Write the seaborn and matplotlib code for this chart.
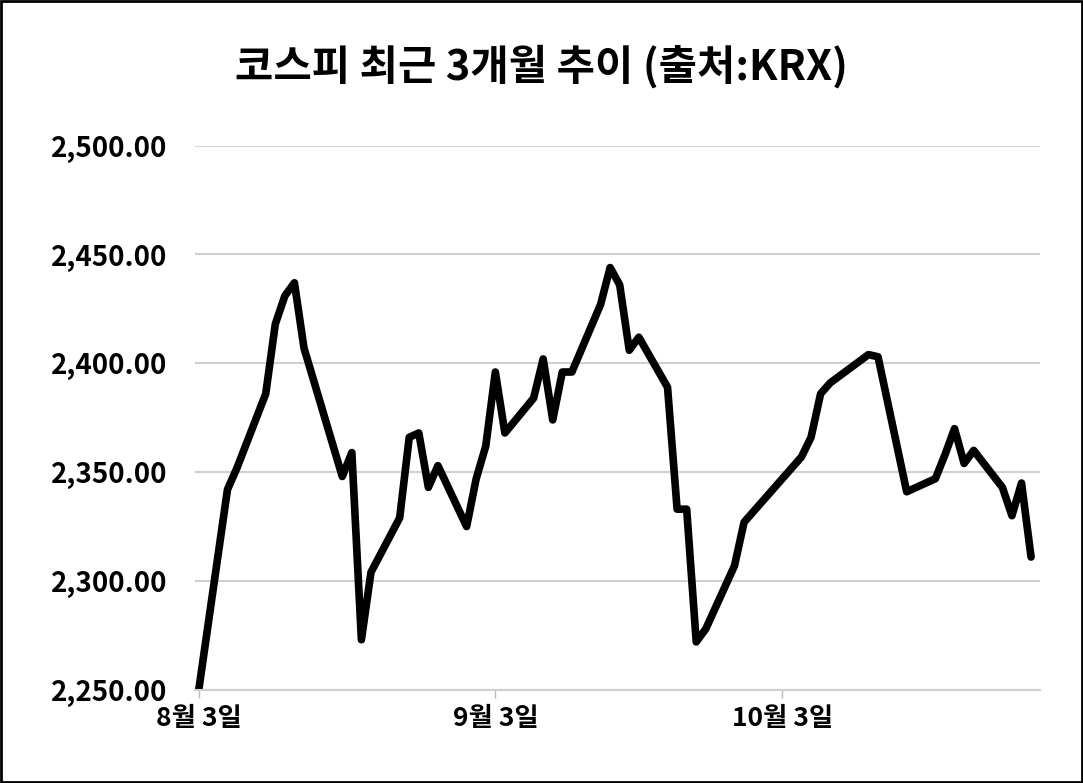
import matplotlib
matplotlib.use("Agg")
import matplotlib.pyplot as plt
import seaborn as sns
import pandas as pd
import numpy as np

sns.set_theme(style="white")
plt.rcParams['font.family'] = ['Noto Sans CJK KR', 'DejaVu Sans']
plt.rcParams['text.color'] = 'black'

day_offsets = [0,3,4,7,8,9,10,11,15,16,17,18,21,22,23,24,25,28,29,30,31,32,35,36,37,38,39,
               42,43,44,45,46,49,50,51,52,53,56,57,63,64,65,66,70,71,74,77,78,79,80,81,84,85,86,87]
values = [2250,2342,2352,2386,2418,2431,2437,2407,2348,2359,2273,2304,2329,2366,2368,2343,2353,
          2325,2347,2362,2396,2368,2384,2402,2374,2396,2396,2427,2444,2436,2406,2412,2389,2333,
          2333,2272,2278,2307,2327,2357,2366,2386,2391,2404,2403,2341,2347,2358,2370,2354,2360,
          2343,2330,2345,2311]
start = pd.Timestamp("2023-08-03")
dates = [start + pd.Timedelta(days=d) for d in day_offsets]
tick_dates = [pd.Timestamp("2023-08-03"), pd.Timestamp("2023-09-03"), pd.Timestamp("2023-10-03")]
tick_labels = ["8월 3일", "9월 3일", "10월 3일"]
yticks = [2250, 2300, 2350, 2400, 2450, 2500]

df = pd.DataFrame({"date": dates, "value": values})

fig = plt.figure(figsize=(10.83, 7.83), dpi=100)
ax = fig.add_axes([0.18, 0.119, 0.78, 0.695])
sns.lineplot(data=df, x="date", y="value", ax=ax, color="black", linewidth=5.5)
ax.set_ylim(2250, 2500)
ax.set_xlim(start - pd.Timedelta(days=0.4), start + pd.Timedelta(days=87.9))
ax.set_yticks(yticks)
ax.set_yticklabels([f"{v:,.2f}" for v in yticks], fontsize=20, fontweight="heavy", color="black")
ax.set_xticks(tick_dates)
ax.set_xticklabels(tick_labels, fontsize=19, fontweight="heavy", color="black")
ax.tick_params(axis="y", length=0, pad=20)
ax.tick_params(axis="x", length=6, width=1, color="#bbbbbb", direction="out", pad=5, bottom=True)
ax.grid(axis="y", color="#d0d0d0", linewidth=1.5)
ax.set_axisbelow(True)
for s in ["top", "right", "left"]:
    ax.spines[s].set_visible(False)
ax.spines["bottom"].set_color("#d0d0d0")
ax.spines["bottom"].set_linewidth(1.5)
ax.set_xlabel("")
ax.set_ylabel("")
fig.text(0.5, 0.915, "코스피 최근 3개월 추이 (출처:KRX)", ha="center", va="center",
         fontsize=30, fontweight="heavy", color="black")
fig.patches.append(plt.Rectangle((0.001, 0.001), 0.998, 0.998, transform=fig.transFigure,
                                 fill=False, edgecolor="black", linewidth=2))
fig.savefig("out.png", dpi=100)
